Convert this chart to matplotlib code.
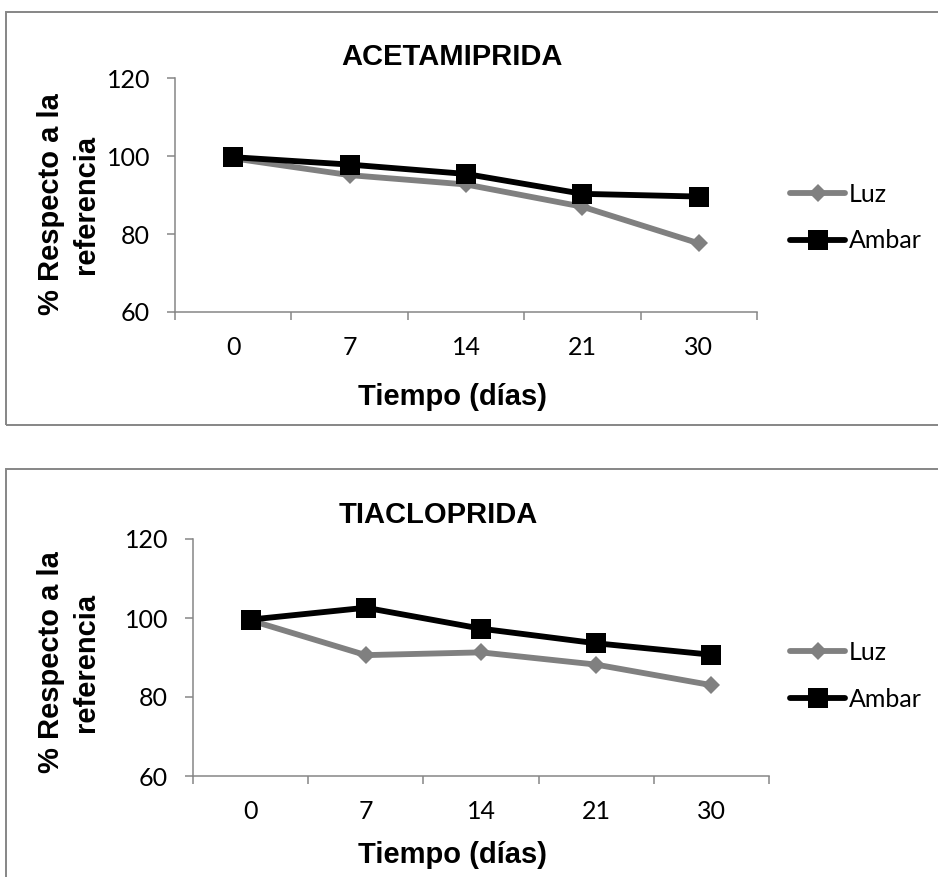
import matplotlib
matplotlib.use("Agg")
import matplotlib.pyplot as plt
from matplotlib.patches import Rectangle

# ---- data ----
days = ["0", "7", "14", "21", "30"]
acet_luz = [99.4, 95.1, 92.7, 87.0, 77.6]
acet_ambar = [99.7, 97.8, 95.4, 90.3, 89.6]
tiac_luz = [99.4, 90.6, 91.3, 88.2, 83.0]
tiac_ambar = [99.6, 102.6, 97.3, 93.6, 90.7]
yticks = [60, 80, 100, 120]
titles = ["ACETAMIPRIDA", "TIACLOPRIDA"]
series_names = ["Luz", "Ambar"]

W, H = 938, 877
fig = plt.figure(figsize=(W / 100, H / 100), dpi=100)

def fx(x):
    return x / W

def fy(y):
    return 1 - y / H

BOLD = dict(family="Liberation Sans", weight="bold", size=21)
TICKF = "Lato"
TSIZE = 18
GRAY = "#868686"

panels = [
    dict(box=(6, 12, 940, 425), ax=(175, 78, 757, 312), title=titles[0], title_x=451.5, title_base=65,
         xl_x=452.5, xl_base=405, yl_x=68.5, yl_y=204, leg_y=217.5,
         luz=acet_luz, ambar=acet_ambar),
    dict(box=(6, 469, 940, 878), ax=(193, 539, 769, 776), title=titles[1], title_x=438.5, title_base=523,
         xl_x=452.5, xl_base=863, yl_x=68.5, yl_y=662, leg_y=676,
         luz=tiac_luz, ambar=tiac_ambar),
]

for p in panels:
    x0, y0, x1, y1 = p["box"]
    fig.patches.append(Rectangle((fx(x0), fy(y1)), fx(x1) - fx(x0), fy(y0) - fy(y1),
                                 transform=fig.transFigure, fill=False, edgecolor=GRAY, linewidth=1.4))
    ax0, ay0, ax1, ay1 = p["ax"]
    ax = fig.add_axes([fx(ax0), fy(ay1), fx(ax1) - fx(ax0), fy(ay0) - fy(ay1)])
    xs = list(range(len(days)))
    ax.plot(xs, p["luz"], color="#808080", linewidth=4.2, marker="D", markersize=9.4,
            markeredgewidth=0, label=series_names[0], zorder=3, solid_capstyle="round")
    ax.plot(xs, p["ambar"], color="black", linewidth=4.2, marker="s", markersize=14.4,
            markeredgewidth=0, label=series_names[1], zorder=4, solid_capstyle="round")
    ax.set_xlim(-0.5, len(days) - 0.5)
    ax.set_ylim(60, 120)
    ax.set_yticks(yticks)
    ax.set_yticklabels([str(v) for v in yticks], fontfamily=TICKF, fontsize=TSIZE)
    ax.set_xticks([i - 0.5 for i in range(len(days) + 1)])
    ax.set_xticklabels([])
    ax.set_xticks(xs, minor=True)
    ax.set_xticklabels(days, minor=True, fontfamily=TICKF, fontsize=TSIZE)
    ax.tick_params(axis="x", which="major", length=6, width=1.1, color=GRAY, direction="out")
    ax.tick_params(axis="x", which="minor", length=0, pad=17)
    ax.tick_params(axis="y", length=6, width=1.1, color=GRAY, pad=12)
    for s in ["top", "right"]:
        ax.spines[s].set_visible(False)
    for s in ["left", "bottom"]:
        ax.spines[s].set_color(GRAY)
        ax.spines[s].set_linewidth(1.1)
    ax.patch.set_visible(False)

    fig.text(fx(p["title_x"]), fy(p["title_base"]), p["title"], ha="center", va="baseline", **BOLD)
    fig.text(fx(p["xl_x"]), fy(p["xl_base"]), "Tiempo (días)", ha="center", va="baseline", **BOLD)
    fig.text(fx(p["yl_x"]), fy(p["yl_y"]), "% Respecto a la\nreferencia", ha="center", va="center",
             rotation=90, multialignment="center", linespacing=1.3, **BOLD)

    ax.legend(loc="center left", bbox_to_anchor=(fx(790), fy(p["leg_y"])),
              bbox_transform=fig.transFigure, frameon=False, borderpad=0, borderaxespad=0,
              handlelength=2.2, handletextpad=0.16, labelspacing=0.95, numpoints=1,
              prop=dict(family=TICKF, size=TSIZE))

fig.savefig("out.png", dpi=100)
